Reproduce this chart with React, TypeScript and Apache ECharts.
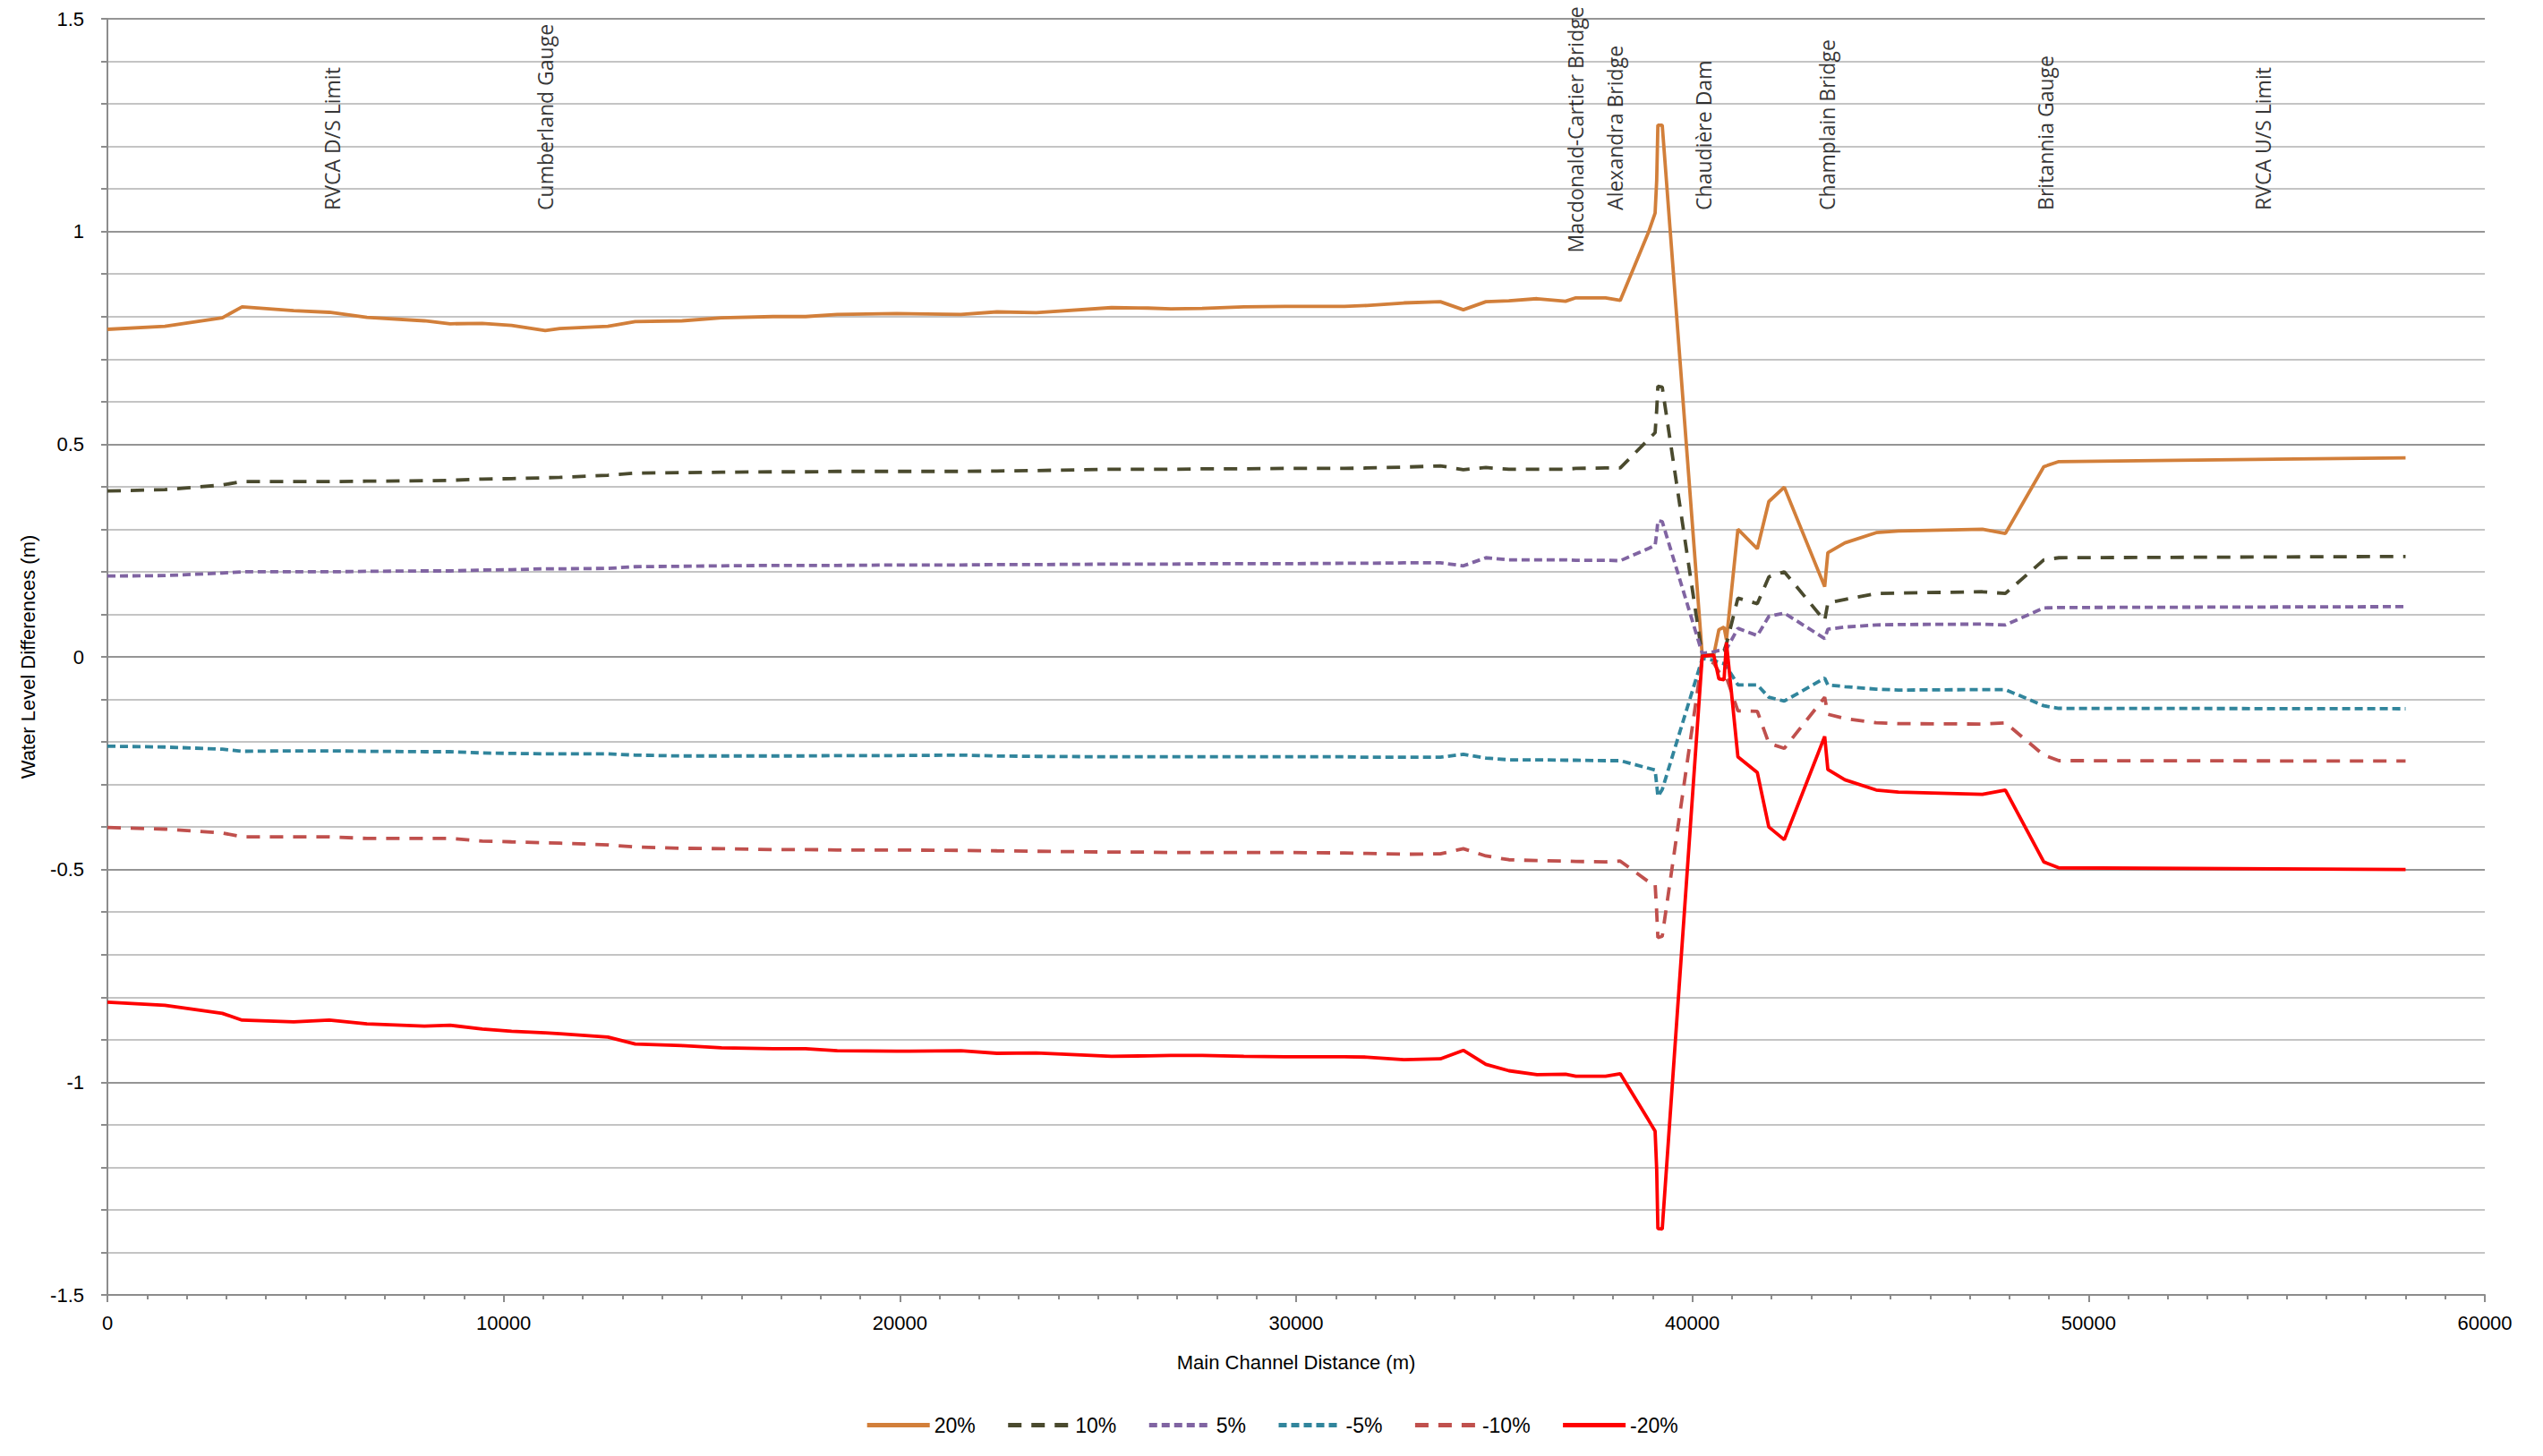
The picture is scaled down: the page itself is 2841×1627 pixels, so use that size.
import React, { useEffect, useRef } from "react";
import * as echarts from "echarts";

// Main channel distance (m) of each cross-section
const distance = [
  0, 1450, 2900, 3400, 4700, 5600, 6550, 8000, 8650, 9460, 10200, 11050, 11420, 12630, 13320, 14500, 15500, 16800, 17620,
  18420, 19920, 21540, 22450, 23440, 25340, 26260, 26840, 27630, 28680, 29720, 31220, 31790, 32720, 33640,
  34220, 34790, 35370, 36080, 36800, 37060, 37810, 38180,
  38900, 39060, 39100, 39130, 39240,
  40250, 40540, 40670, 40800, 40860,
  41150, 41640, 41930, 42320,
  43340, 43420, 43850, 44640, 45200, 47320, 47900,
  48870, 49250, 58000,
];

const pct20 = [
  0.770, 0.777, 0.797, 0.823, 0.814, 0.810, 0.798, 0.790, 0.783, 0.784, 0.779, 0.767, 0.772, 0.777, 0.788, 0.790, 0.797, 0.800, 0.800,
  0.805, 0.807, 0.805, 0.811, 0.809, 0.821, 0.820, 0.818, 0.819, 0.823, 0.824, 0.824, 0.826, 0.832, 0.835,
  0.816, 0.835, 0.837, 0.842, 0.836, 0.844, 0.844, 0.838,
  1.000, 1.043, 1.120, 1.250, 1.250,
  0.004, 0.004, 0.064, 0.070, 0.040,
  0.300, 0.254, 0.365, 0.399,
  0.165, 0.245, 0.268, 0.292, 0.296, 0.300, 0.290,
  0.447, 0.459, 0.468,
];

const pct10 = [
  0.390, 0.393, 0.404, 0.412, 0.412, 0.412, 0.413, 0.414, 0.415, 0.418, 0.419, 0.421, 0.422, 0.427, 0.432, 0.433, 0.434, 0.435, 0.435,
  0.436, 0.436, 0.436, 0.437, 0.438, 0.441, 0.441, 0.441, 0.442, 0.442, 0.443, 0.443, 0.444, 0.446, 0.449,
  0.440, 0.445, 0.441, 0.441, 0.441, 0.443, 0.444, 0.444,
  0.512, 0.527, 0.580, 0.636, 0.634,
  0.002, 0.005, 0.010, 0.015, 0.030,
  0.138, 0.125, 0.188, 0.200,
  0.085, 0.127, 0.135, 0.149, 0.150, 0.153, 0.149,
  0.228, 0.233, 0.236,
];

const pct5 = [
  0.190, 0.191, 0.197, 0.200, 0.200, 0.200, 0.201, 0.202, 0.202, 0.204, 0.205, 0.207, 0.207, 0.208, 0.212, 0.213, 0.214, 0.215, 0.215,
  0.215, 0.216, 0.216, 0.217, 0.217, 0.218, 0.218, 0.218, 0.219, 0.219, 0.219, 0.220, 0.220, 0.221, 0.221,
  0.214, 0.233, 0.228, 0.228, 0.228, 0.227, 0.227, 0.226,
  0.255, 0.262, 0.290, 0.320, 0.318,
  0.008, 0.012, 0.015, 0.017, 0.018,
  0.067, 0.050, 0.095, 0.103,
  0.043, 0.065, 0.070, 0.075, 0.076, 0.077, 0.075,
  0.115, 0.116, 0.118,
];

const neg5 = [
  -0.210, -0.212, -0.217, -0.222, -0.221, -0.221, -0.222, -0.223, -0.223, -0.226, -0.227, -0.228, -0.228, -0.228, -0.231, -0.233, -0.233, -0.233, -0.233,
  -0.232, -0.232, -0.231, -0.233, -0.234, -0.235, -0.235, -0.235, -0.235, -0.235, -0.235, -0.235, -0.236, -0.236, -0.236,
  -0.229, -0.238, -0.242, -0.242, -0.243, -0.243, -0.244, -0.244,
  -0.262, -0.266, -0.300, -0.328, -0.312,
  -0.004, -0.008, -0.013, -0.016, -0.022,
  -0.066, -0.066, -0.095, -0.104,
  -0.050, -0.066, -0.070, -0.076, -0.078, -0.077, -0.077,
  -0.115, -0.121, -0.122,
];

const neg10 = [
  -0.401, -0.405, -0.414, -0.423, -0.423, -0.423, -0.427, -0.427, -0.427, -0.433, -0.435, -0.437, -0.438, -0.442, -0.447, -0.450, -0.451, -0.453, -0.453,
  -0.454, -0.454, -0.455, -0.456, -0.457, -0.459, -0.459, -0.460, -0.460, -0.460, -0.460, -0.461, -0.462, -0.464, -0.463,
  -0.451, -0.468, -0.477, -0.479, -0.480, -0.481, -0.482, -0.480,
  -0.529, -0.533, -0.600, -0.660, -0.657,
  -0.002, -0.015, -0.035, -0.045, -0.048,
  -0.127, -0.128, -0.203, -0.215,
  -0.095, -0.135, -0.145, -0.155, -0.157, -0.158, -0.155,
  -0.231, -0.244, -0.245,
];

const neg20 = [
  -0.812, -0.819, -0.838, -0.854, -0.858, -0.854, -0.863, -0.868, -0.866, -0.875, -0.880, -0.884, -0.886, -0.894, -0.910, -0.914, -0.919, -0.921, -0.921,
  -0.926, -0.927, -0.926, -0.932, -0.931, -0.939, -0.938, -0.937, -0.937, -0.939, -0.940, -0.940, -0.941, -0.947, -0.945,
  -0.925, -0.958, -0.973, -0.982, -0.981, -0.986, -0.986, -0.980,
  -1.090, -1.115, -1.205, -1.344, -1.345,
  0.002, 0.004, -0.052, -0.054, 0.034,
  -0.235, -0.272, -0.400, -0.430,
  -0.187, -0.265, -0.289, -0.313, -0.318, -0.323, -0.313,
  -0.482, -0.496, -0.500,
];

const seriesNames = ["20%", "10%", "5%", "-5%", "-10%", "-20%"];
const seriesValues = [pct20, pct10, pct5, neg5, neg10, neg20];
const seriesColors = ["#D27F3A", "#4A4A2E", "#8064A2", "#31859C", "#C0504D", "#FF0000"];
const seriesDash: (number[] | "solid")[] = ["solid", [15, 11], [9, 5], [9, 5], [15, 11], "solid"];

// Landmark annotations along the channel
const landmarkLabels = [
  "RVCA D/S Limit",
  "Cumberland Gauge",
  "Macdonald-Cartier Bridge",
  "Alexandra Bridge",
  "Chaudière Dam",
  "Champlain Bridge",
  "Britannia Gauge",
  "RVCA U/S Limit",
];
const landmarkX = [5670, 11040, 37050, 38040, 40280, 43400, 48900, 54390];
const landmarkY = [1.05, 1.05, 0.95, 1.05, 1.05, 1.05, 1.05, 1.05];

const FONT = "Liberation Sans, Arial, sans-serif";

export default function App() {
  const ref = useRef<HTMLDivElement>(null);

  useEffect(() => {
    document.body.style.margin = "0";
    if (!ref.current) return;
    const chart = echarts.init(ref.current, null, { renderer: "svg" });

    const lineSeries = seriesNames.map((name, k) => ({
      name,
      type: "line",
      data: distance.map((d, i) => [d, seriesValues[k][i]]),
      showSymbol: false,
      symbol: "none",
      lineStyle: { color: seriesColors[k], width: 3.8, type: seriesDash[k] },
      itemStyle: { color: seriesColors[k] },
      z: 3,
    }));

    const landmarkSeries = {
      name: "landmarks",
      type: "scatter",
      symbolSize: 1,
      itemStyle: { color: "rgba(0,0,0,0)" },
      data: landmarkLabels.map((label, i) => ({ name: label, value: [landmarkX[i], landmarkY[i]] })),
      label: {
        show: true,
        formatter: "{b}",
        position: "inside",
        rotate: 90,
        align: "left",
        verticalAlign: "middle",
        fontFamily: "Open Sans, sans-serif",
        fontSize: 23,
        color: "#000",
      },
      z: 5,
      silent: true,
    };

    chart.setOption({
      animation: false,
      backgroundColor: "#fff",
      grid: { left: 120, right: 65, top: 21, bottom: 180, containLabel: false },
      legend: {
        data: seriesNames,
        bottom: 18,
        left: "center",
        itemWidth: 70,
        itemHeight: 14,
        itemGap: 34,
        itemStyle: { opacity: 0 },
        lineStyle: { width: 5 },
        textStyle: { fontFamily: FONT, fontSize: 23, color: "#000" },
      },
      xAxis: {
        type: "value",
        min: 0,
        max: 60000,
        interval: 10000,
        name: "Main Channel Distance (m)",
        nameLocation: "middle",
        nameGap: 64,
        nameTextStyle: { fontFamily: FONT, fontSize: 22, color: "#000" },
        axisLine: { onZero: false, lineStyle: { color: "#8c8c8c", width: 2 } },
        axisTick: { show: true, length: 8, lineStyle: { color: "#8c8c8c", width: 2 } },
        minorTick: { show: true, splitNumber: 10, length: 5, lineStyle: { color: "#8c8c8c", width: 2 } },
        axisLabel: {
          fontFamily: FONT,
          fontSize: 22,
          color: "#000",
          margin: 20,
          formatter: (v: number) => String(v),
        },
        splitLine: { show: false },
      },
      yAxis: {
        type: "value",
        min: -1.5,
        max: 1.5,
        interval: 0.5,
        name: "Water Level Differences (m)",
        nameLocation: "middle",
        nameGap: 78,
        nameTextStyle: { fontFamily: FONT, fontSize: 22, color: "#000" },
        axisLine: { show: true, lineStyle: { color: "#8c8c8c", width: 2 } },
        axisTick: { show: true, length: 7, lineStyle: { color: "#8c8c8c", width: 2 } },
        minorTick: { show: true, splitNumber: 5, length: 7, lineStyle: { color: "#8c8c8c", width: 2 } },
        axisLabel: { fontFamily: FONT, fontSize: 22, color: "#000", margin: 26 },
        splitLine: { show: true, lineStyle: { color: "#959595", width: 2 } },
        minorSplitLine: { show: true, lineStyle: { color: "#c4c4c4", width: 2 } },
      },
      series: [...lineSeries, landmarkSeries],
    });

    return () => chart.dispose();
  }, []);

  return <div ref={ref} style={{ width: 2841, height: 1627 }} />;
}
